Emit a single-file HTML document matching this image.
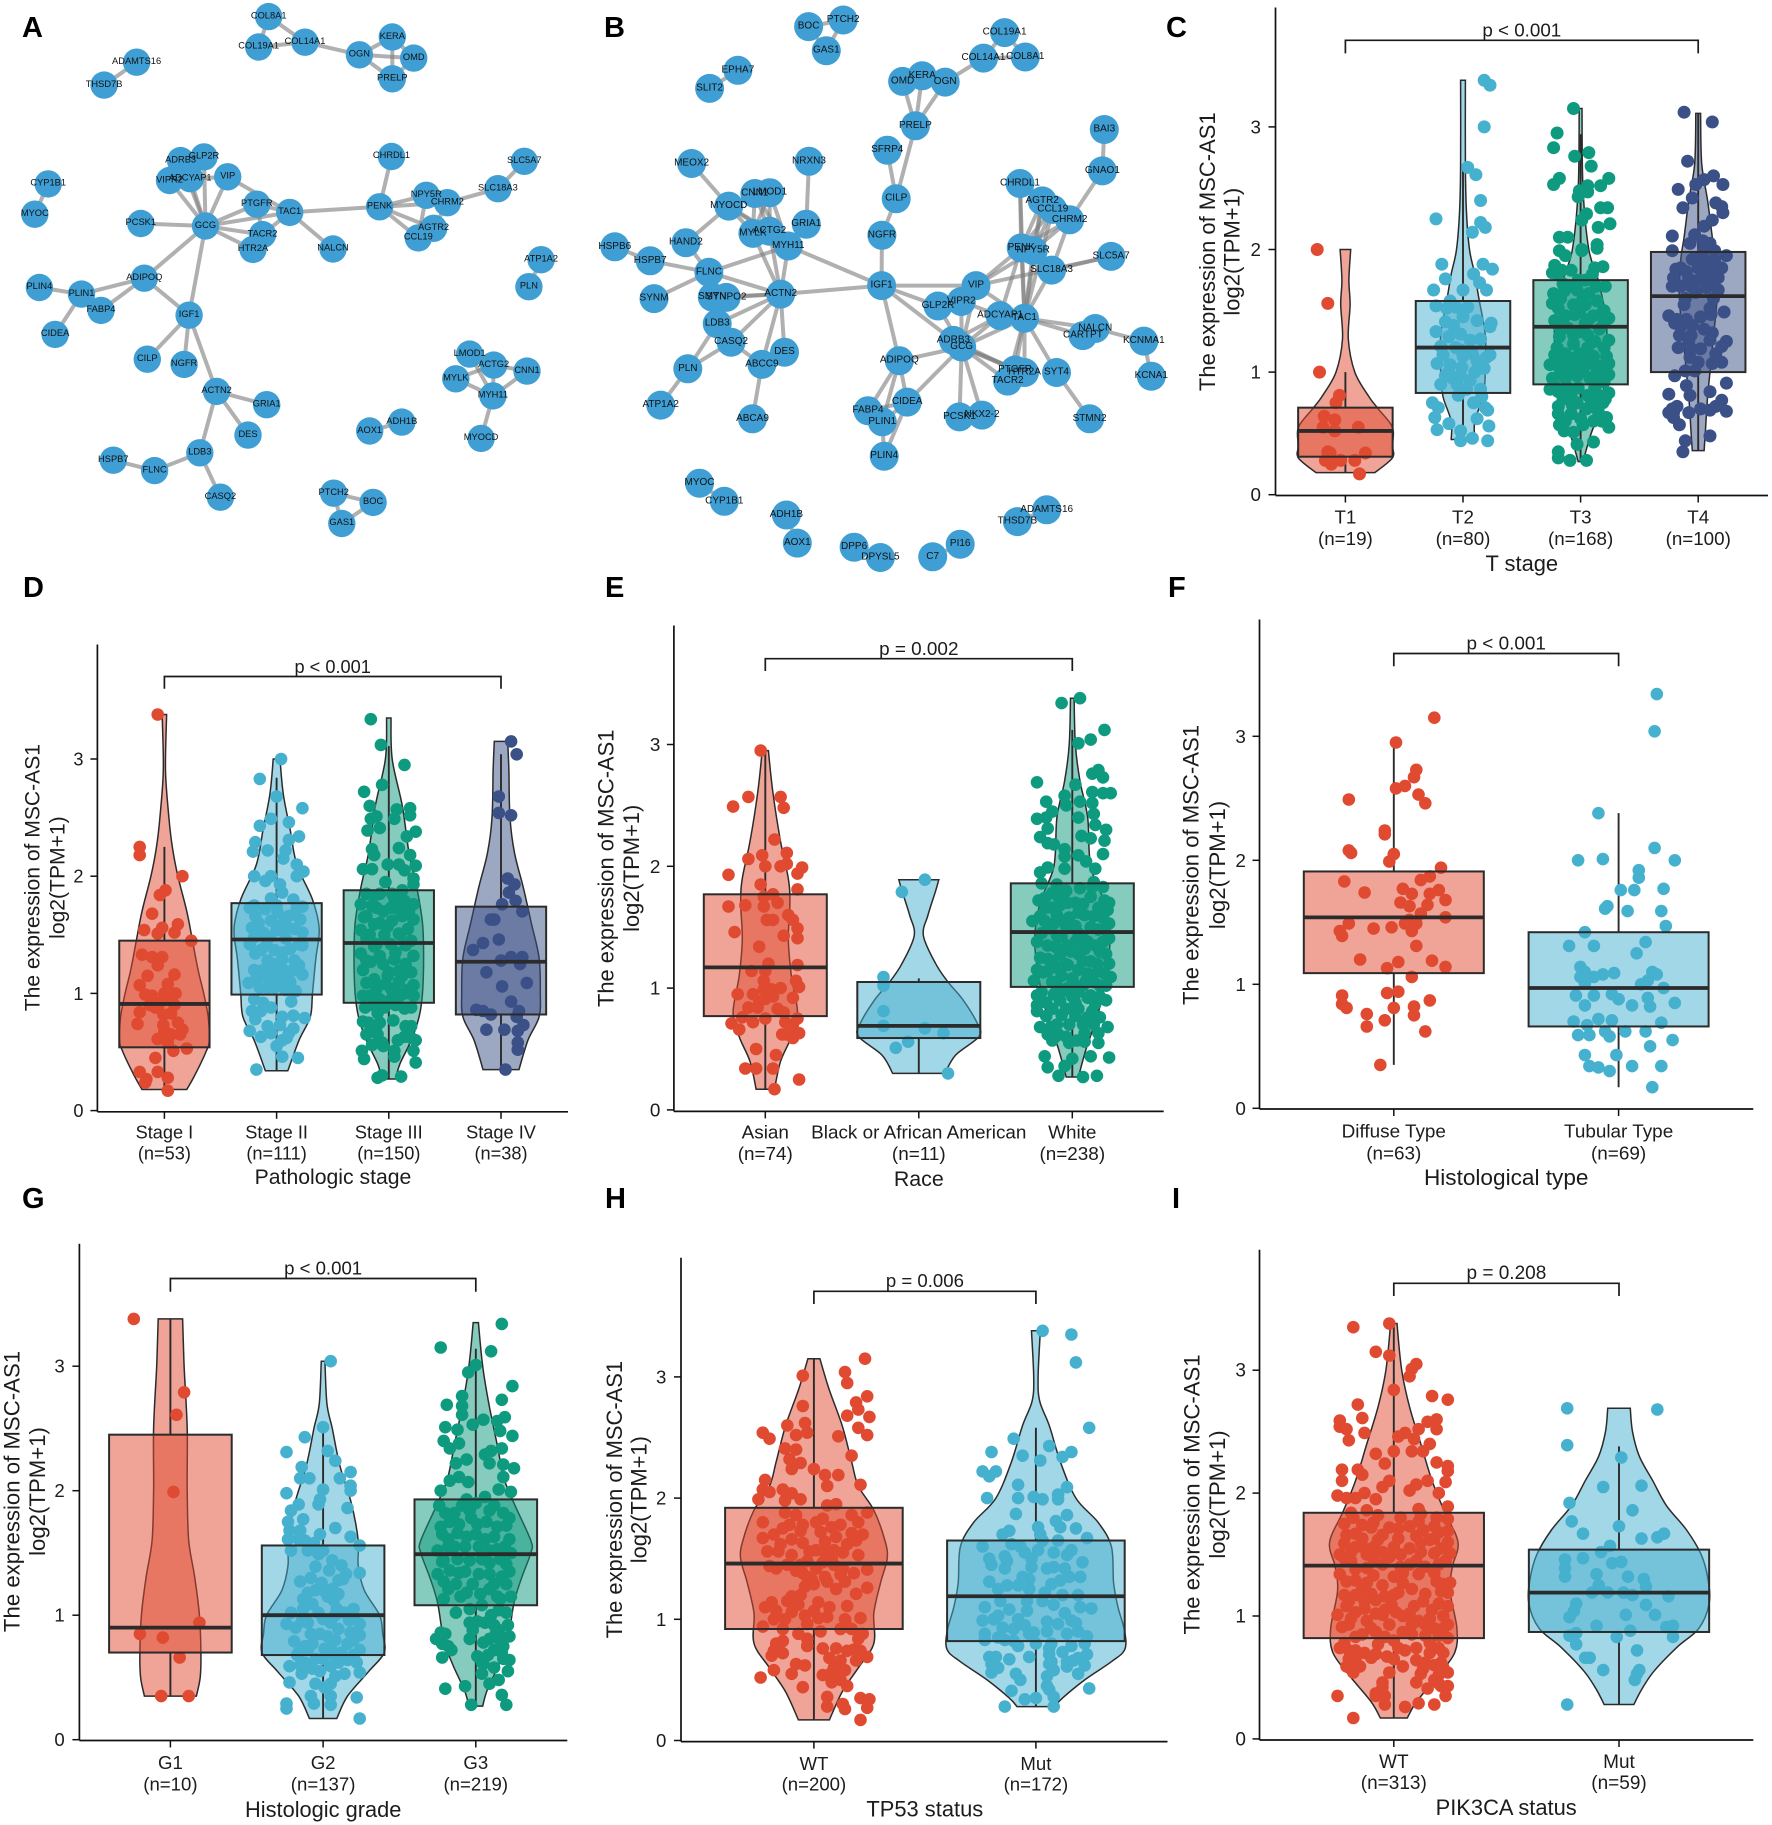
<!DOCTYPE html>
<html lang="en">
<head>
<meta charset="utf-8">
<title>MSC-AS1 expression figure</title>
<style>
html,body{margin:0;padding:0;background:#fff}
svg{display:block;position:absolute;left:0;top:0}
text{font-family:"Liberation Sans",sans-serif;fill:#1c1c1c}
</style>
</head>
<body>
<svg id="figure" xmlns="http://www.w3.org/2000/svg" width="1772" height="1825" viewBox="0 0 1772 1825">
<rect width="1772" height="1825" fill="#fff"/>
</svg>
<script>
/* ---------- Network A ---------- */
const netA_nodes=[["COL8A1",702,45],["COL19A1",676,127],["COL14A1",797,114],["OGN",939,148],["KERA",1025,100],["OMD",1081,157],["PRELP",1025,213],["ADAMTS16",357,168],["THSD7B",272,230],["CYP1B1",126,497],["MYOC",91,579],["ADRB3",472,434],["GLP2R",533,424],["VIPR2",443,488],["ADCYAP1",497,483],["VIP",595,478],["PTGFR",671,552],["TAC1",757,574],["GCG",537,611],["PCSK1",368,604],["TACR2",686,634],["HTR2A",661,674],["NALCN",870,673],["CHRDL1",1023,423],["PENK",992,559],["NPY5R",1114,528],["CHRM2",1169,548],["AGTR2",1133,617],["CCL19",1093,643],["SLC18A3",1301,510],["SLC5A7",1370,436],["ATP1A2",1414,702],["PLN",1382,775],["ADIPOQ",377,752],["PLIN4",103,777],["PLIN1",213,795],["FABP4",264,839],["CIDEA",144,904],["IGF1",494,852],["CILP",385,971],["NGFR",481,985],["ACTN2",566,1058],["GRIA1",697,1094],["DES",648,1176],["LDB3",522,1224],["FLNC",404,1272],["HSPB7",296,1244],["CASQ2",576,1344],["LMOD1",1227,957],["ACTG2",1290,987],["CNN1",1377,1003],["MYLK",1191,1024],["MYH11",1288,1070],["MYOCD",1257,1185],["AOX1",966,1165],["ADH1B",1050,1141],["PTCH2",872,1333],["BOC",975,1358],["GAS1",893,1415]];
const netA_edges="COL8A1-COL19A1 COL8A1-COL14A1 COL19A1-COL14A1 COL14A1-OGN OGN-KERA OGN-OMD OGN-PRELP KERA-OMD KERA-PRELP OMD-PRELP ADAMTS16-THSD7B CYP1B1-MYOC GCG-ADRB3 GCG-GLP2R GCG-VIPR2 GCG-ADCYAP1 GCG-VIP GCG-PTGFR GCG-TAC1 GCG-PCSK1 GCG-TACR2 GCG-HTR2A GCG-ADIPOQ GCG-IGF1 VIP-TAC1 TAC1-PTGFR TAC1-TACR2 PTGFR-TACR2 TAC1-PENK TAC1-NALCN ADRB3-ADCYAP1 ADCYAP1-VIP GLP2R-ADCYAP1 PENK-CHRDL1 PENK-NPY5R PENK-CHRM2 PENK-AGTR2 PENK-CCL19 NPY5R-CHRM2 NPY5R-CCL19 CHRM2-AGTR2 CHRM2-SLC18A3 SLC18A3-SLC5A7 ATP1A2-PLN ADIPOQ-PLIN1 ADIPOQ-FABP4 ADIPOQ-IGF1 PLIN1-FABP4 PLIN1-PLIN4 PLIN1-CIDEA IGF1-CILP IGF1-NGFR IGF1-ACTN2 ACTN2-GRIA1 ACTN2-DES ACTN2-LDB3 LDB3-FLNC LDB3-CASQ2 FLNC-HSPB7 LMOD1-ACTG2 MYLK-ACTG2 MYLK-MYH11 ACTG2-MYH11 LMOD1-MYH11 CNN1-ACTG2 CNN1-MYH11 MYH11-MYOCD AOX1-ADH1B PTCH2-BOC PTCH2-GAS1 BOC-GAS1".split(" ");

/* ---------- Network B ---------- */
const netB_nodes=[["BOC",581,72],["PTCH2",673,54],["GAS1",628,137],["EPHA7",393,190],["SLIT2",318,239],["COL19A1",1102,88],["COL14A1",1046,157],["COL8A1",1157,154],["OMD",831,220],["KERA",883,205],["OGN",944,222],["PRELP",865,340],["SFRP4",790,406],["CILP",814,537],["NGFR",776,636],["BAI3",1367,350],["GNAO1",1362,462],["MEOX2",270,442],["NRXN3",582,436],["CHRDL1",1143,496],["AGTR2",1202,543],["CCL19",1230,566],["CHRM2",1275,594],["MYOCD",369,557],["CNN1",438,523],["LMOD1",478,521],["GRIA1",575,606],["MYLK",433,631],["ACTG2",477,625],["MYH11",527,665],["HAND2",255,656],["HSPB6",66,667],["HSPB7",160,705],["FLNC",316,736],["SYNM",170,807],["SMTN",325,803],["SYNPO2",362,804],["ACTN2",507,795],["LDB3",338,875],["CASQ2",375,925],["DES",517,952],["ABCC9",457,985],["PLN",260,997],["ATP1A2",188,1095],["ABCA9",432,1132],["IGF1",775,772],["PENK",1146,670],["NPY5R",1178,677],["SLC18A3",1227,730],["SLC5A7",1385,693],["VIP",1026,772],["VIPR2",987,815],["GLP2R",925,827],["ADCYAP1",1090,853],["TAC1",1155,860],["ADRB3",966,920],["GCG",988,938],["ADIPOQ",822,975],["PTGFR",1130,1000],["HTR2A",1155,1007],["TACR2",1110,1030],["SYT4",1240,1007],["CARTPT",1310,907],["NALCN",1343,888],["KCNMA1",1472,922],["KCNA1",1492,1017],["CIDEA",843,1087],["FABP4",739,1110],["PLIN1",777,1140],["PLIN4",782,1233],["PCSK1",982,1127],["NKX2-2",1042,1122],["STMN2",1328,1132],["MYOC",291,1306],["CYP1B1",357,1355],["ADH1B",522,1392],["AOX1",551,1468],["DPP6",702,1479],["DPYSL5",772,1507],["C7",911,1505],["PI16",984,1471],["ADAMTS16",1214,1378],["THSD7B",1136,1410]];
const netB_edges="BOC-PTCH2 BOC-GAS1 PTCH2-GAS1 EPHA7-SLIT2 COL19A1-COL14A1 COL19A1-COL8A1 COL14A1-COL8A1 COL14A1-OGN OMD-KERA KERA-OGN OMD-PRELP KERA-PRELP OGN-PRELP PRELP-CILP SFRP4-CILP CILP-NGFR NGFR-IGF1 BAI3-GNAO1 GNAO1-CHRM2 MEOX2-MYOCD NRXN3-GRIA1 MYOCD-CNN1 MYOCD-LMOD1 MYOCD-MYLK MYOCD-ACTG2 MYOCD-MYH11 MYOCD-HAND2 CNN1-MYLK CNN1-ACTG2 CNN1-MYH11 LMOD1-ACTG2 LMOD1-MYH11 LMOD1-MYLK MYH11-FLNC MYH11-IGF1 MYH11-ACTN2 MYLK-ACTN2 ACTG2-ACTN2 HAND2-FLNC HSPB6-HSPB7 HSPB7-FLNC FLNC-SYNM FLNC-ACTN2 FLNC-LDB3 SYNPO2-ACTN2 SMTN-ACTN2 LDB3-ACTN2 CASQ2-ACTN2 DES-ACTN2 ABCC9-ACTN2 CASQ2-PLN LDB3-PLN PLN-ATP1A2 ABCC9-ABCA9 CASQ2-ABCC9 ACTN2-IGF1 IGF1-VIP IGF1-GLP2R IGF1-GCG IGF1-ADIPOQ CHRDL1-PENK AGTR2-PENK CCL19-PENK CHRM2-PENK NPY5R-AGTR2 NPY5R-CCL19 NPY5R-CHRM2 CHRM2-SLC18A3 SLC18A3-SLC5A7 VIP-PENK VIP-NPY5R VIP-SLC5A7 TAC1-PENK TAC1-NPY5R TAC1-CHRDL1 TAC1-AGTR2 TAC1-CCL19 TAC1-SLC18A3 ADCYAP1-PENK GCG-VIP GCG-VIPR2 GCG-GLP2R GCG-ADCYAP1 GCG-TAC1 GCG-PTGFR GCG-HTR2A GCG-TACR2 GCG-PCSK1 GCG-NKX2-2 GCG-ADIPOQ GCG-CIDEA GCG-ADRB3 ADRB3-PTGFR ADRB3-ADCYAP1 VIP-TAC1 VIPR2-ADCYAP1 TAC1-PTGFR TAC1-HTR2A TAC1-TACR2 TAC1-SYT4 TAC1-CARTPT TAC1-NALCN NALCN-KCNMA1 KCNMA1-KCNA1 SYT4-STMN2 ADIPOQ-FABP4 ADIPOQ-PLIN1 ADIPOQ-CIDEA CIDEA-PLIN4 FABP4-PLIN1 FABP4-CIDEA PLIN1-PLIN4 PLIN1-CIDEA MYOC-CYP1B1 ADH1B-AOX1 DPP6-DPYSL5 C7-PI16 ADAMTS16-THSD7B".split(" ");

/* ---------- Panel C ---------- */
const panelC_categories=["T1","T2","T3","T4"];
const panelC_counts=[19,80,168,100];
const panelC_yticks=[0,1,2,3];
const panelC_box=[[.18,.31,.52,.71,1.0],[.44,.83,1.2,1.58,2.68],[.27,.9,1.37,1.75,2.94],[.36,1.0,1.62,1.98,3.11]];
const panelC_violin=[
[[2,.045],[1.75,.03],[1.55,.04],[1.27,.025],[1,.08],[.8,.2],[.7,.28],[.55,.4],[.4,.4],[.3,.4],[.18,.25]],
[[3.38,.02],[2.7,.02],[2.3,.03],[2,.055],[1.8,.1],[1.6,.135],[1.3,.19],[1,.19],[.8,.17],[.6,.1],[.45,.1]],
[[3.15,.012],[2.5,.02],[2,.07],[1.75,.15],[1.4,.22],[1,.21],[.7,.17],[.5,.09],[.27,.02]],
[[3.11,.02],[2.7,.03],[2.4,.08],[2.1,.12],[1.9,.15],[1.6,.16],[1.3,.13],[1,.1],[.8,.08],[.5,.06],[.36,.05]]];
const panelC_points=[
[[-.24,2],[-.15,1.56],[-.22,1],[-.05,.81],[-.08,.75],[-.18,.64],[-.09,.61],[-.19,.55],[-.09,.52],[.11,.55],[-.15,.35],[.17,.34],[-.17,.28],[-.12,.25],[-.04,.28],[.08,.28],[.12,.17],[-.13,.34]],
[[.18,3.38],[.23,3.34],[.18,3],[.04,2.67],[.11,2.61],[.15,2.4],[-.23,2.25],[.15,2.22],[.19,2.18],[.08,2.14],[-.18,1.88],[.17,1.88],[.25,1.84],[-.15,1.76],[.09,1.8],[.14,1.73],[.2,1.67],[-.25,1.67],[0,1.67],[-.11,1.58],[-.23,1.54],[-.14,1.52],[-.06,1.53],[.04,1.53],[-.15,1.41],[.12,1.42],[.24,1.4],[.23,1.37],[-.23,1.33],[-.02,1.31],[-.12,1.29],[.15,1.27],[.06,1.26],[-.19,1.21],[-.06,1.2],[.23,1.14],[.12,1.09],[-.22,1.07],[-.11,1.06],[-.01,1.04],[-.12,1],[.1,1],[-.02,.97],[-.19,.9],[-.09,.95],[.03,.86],[.15,.86],[-.04,.81],[.09,.75],[-.26,.75],[-.21,.71],[.19,.71],[.21,.69],[-.24,.63],[.12,.62],[-.12,.58],[.22,.56],[-.22,.53],[-.02,.52],[-.02,.44],[.08,.46],[.21,.44],[-.17,1.14],[0,1.13],[.18,1.03],[-.05,.9],[.06,.93],[.16,.8],[0,1.45],[.08,1.15],[-.08,1.38],[.2,1.12],[-.15,.97],[-.02,1.18]],
[[-.06,3.15],[-.2,2.95],[-.23,2.83],[.07,2.79],[-.05,2.76],[.09,2.68],[.24,2.58],[-.18,2.58],[-.23,2.53],[.17,2.52],[.06,2.52],[-.01,2.48],[.06,2.47],[-.02,2.43],[.17,2.34],[.23,2.34],[.05,2.29],[.01,2.24],[.25,2.21],[.15,2.18],[-.18,2.1],[-.11,2.1],[.14,2.04],[.14,2.01],[-.18,1.99],[.01,1.99],[-.13,1.95],[-.22,1.87],[-.24,1.81],[-.16,1.83],[-.08,1.83],[.12,1.85],[.19,1.86],[.04,1.75],[.21,1.7],[-.23,1.64],[-.14,1.66],[-.03,1.67],[.07,1.64],[.14,1.58],[-.24,1.56],[-.19,1.52],[-.06,1.55],[.04,1.55],[.19,1.49],[.24,1.44],[-.13,1.46],[-.01,1.49],[.11,1.46],[-.19,1.38],[.04,1.4],[.2,1.4],[-.18,1.29],[-.06,1.3],[.06,1.3],[.24,1.26],[-.06,1.23],[.06,1.2],[-.13,1.15],[-.01,1.15],[.11,1.13],[.22,1.13],[-.14,1.07],[-.04,1.07],[.06,1.07],[-.26,1.06],[.24,1.07],[-.21,1.06],[-.09,1.01],[.02,1.01],[.14,1.01],[.24,.98],[-.24,.95],[-.13,.95],[.17,.92],[-.26,.86],[-.19,.84],[-.09,.83],[.24,.83],[.16,.81],[.06,.81],[.09,.74],[.19,.75],[-.19,.72],[-.03,.75],[-.19,.66],[-.08,.66],[.22,.63],[.11,.6],[-.18,.57],[.24,.55],[-.14,.52],[-.06,.51],[.02,.57],[.11,.43],[-.03,.41],[-.19,.35],[-.19,.3],[-.09,.28],[.05,.28],[-.2,1.8],[-.08,1.7],[.02,1.6],[.13,1.7],[-.17,1.6],[-.05,1.47],[.07,1.43],[.16,1.35],[-.22,1.42],[-.11,1.36],[0,1.33],[.12,1.25],[.2,1.2],[-.2,1.2],[-.1,1.12],[.03,1.12],[.16,1.05],[-.22,1.14],[-.17,1],[-.03,.97],[.08,.95],[.2,.92],[-.12,.88],[-.02,.87],[.12,.87],[.21,.78],[-.23,.9],[-.15,.78],[-.07,.73],[.05,.7],[.15,.68],[-.13,.6],[0,.62],[.18,.6],[-.08,.8],[.2,1.5],[-.02,1.75],[.1,1.8],[-.15,1.72],[.01,2]],
[[-.12,3.12],[.12,3.04],[-.09,2.72],[.13,2.6],[.05,2.57],[-.02,2.53],[-.17,2.49],[.21,2.53],[-.05,2.42],[-.13,2.34],[.15,2.38],[.21,2.3],[.12,2.24],[.05,2.19],[-.22,2.11],[.04,2.07],[-.07,2.05],[-.22,1.99],[.14,1.99],[.24,1.95],[-.05,1.92],[.05,1.92],[.14,1.92],[-.19,1.84],[0,1.85],[.09,1.84],[-.21,1.77],[-.08,1.76],[.17,1.77],[0,1.75],[-.15,1.7],[-.06,1.7],[.07,1.69],[.17,1.67],[-.11,1.6],[.1,1.52],[.22,1.49],[.11,1.47],[-.25,1.46],[-.18,1.43],[-.1,1.43],[-.15,1.37],[-.05,1.38],[-.16,1.3],[-.06,1.3],[.12,1.32],[.1,1.26],[.24,1.25],[.2,1.21],[-.06,1.19],[.02,1.19],[.2,1.08],[.12,1.07],[-.2,.97],[-.03,1.01],[-.11,1.01],[-.1,.89],[.24,.91],[-.25,.82],[-.07,.81],[.1,.84],[.2,.77],[-.18,.72],[-.21,.67],[-.08,.67],[.02,.7],[.1,.69],[.24,.68],[-.21,.63],[-.16,.57],[-.11,.44],[.1,.48],[-.13,.35],[-.25,.67],[-.15,1.85],[.12,1.83],[0,1.93],[-.1,1.82],[.2,1.85],[-.22,1.7],[.11,1.73],[.05,1.78],[-.02,1.65],[.13,1.6],[-.12,1.55],[-.2,1.4],[-.08,1.25],[.02,1.45],[.05,1.35],[-.17,1.2],[.15,1.15],[-.07,1.12],[0,1.08],[-.22,.7],[.15,.72],[.05,2],[-.03,2.12],[.1,2.05],[.2,2.35]]];

/* ---------- Panel D ---------- */
const panelD_categories=["Stage I","Stage II","Stage III","Stage IV"];
const panelD_counts=[53,111,150,38];
const panelD_yticks=[0,1,2,3];
const panelD_box=[[.18,.54,.91,1.45,2.25],[.34,.99,1.46,1.77,2.84],[.27,.92,1.43,1.88,3.11],[.35,.82,1.27,1.74,3.04]];
const panelD_violin=[
[[3.38,.02],[2.9,.01],[2.5,.04],[2.25,.07],[2,.12],[1.7,.2],[1.45,.25],[1.2,.3],[1,.35],[.8,.39],[.6,.4],[.5,.37],[.3,.27],[.18,.2]],
[[3,.03],[2.7,.06],[2.4,.12],[2.1,.18],[1.8,.32],[1.55,.38],[1.3,.35],[1,.32],[.8,.3],[.6,.2],[.34,.1]],
[[3.35,.02],[3,.03],[2.6,.12],[2.2,.18],[1.9,.25],[1.6,.3],[1.3,.31],[1,.3],[.8,.27],[.6,.2],[.4,.1],[.27,.06]],
[[3.15,.06],[2.9,.07],[2.5,.08],[2.2,.12],[1.9,.2],[1.6,.27],[1.3,.34],[1,.35],[.8,.34],[.6,.24],[.35,.16]]];
const panelD_points=[
[[-.06,3.38],[-.22,2.25],[-.22,2.18],[.16,2],[.01,1.88],[-.04,1.84],[-.11,1.68],[.12,1.59],[-.18,1.54],[-.02,1.56],[-.06,1.51],[.09,1.52],[.24,1.45],[-.2,1.33],[-.11,1.31],[-.02,1.31],[-.06,1.24],[.09,1.16],[-.22,1.07],[.03,1.08],[-.17,.99],[-.11,.98],[-.04,.92],[.09,.9],[-.22,.84],[-.01,.82],[.06,.83],[-.24,.74],[-.01,.73],[0,.68],[.16,.69],[.06,.65],[.14,.65],[-.06,.61],[.03,.58],[.2,.53],[.08,.51],[-.08,.45],[-.22,.33],[-.06,.33],[.03,.28],[-.16,.27],[.03,.17],[-.17,.24],[0,1],[-.15,1.15],[.05,.95],[-.03,.62],[.12,.75],[-.08,.88],[.1,1],[-.13,.9]],
[[.04,3],[-.15,2.83],[0,2.68],[.23,2.58],[-.05,2.49],[.11,2.46],[-.15,2.43],[.2,2.34],[-.19,2.29],[.11,2.31],[-.21,2.21],[-.08,2.22],[.08,2.22],[.06,2.15],[.18,2.1],[.24,2.04],[.18,2],[-.2,2],[-.1,1.96],[-.05,2],[.03,1.93],[.05,1.86],[-.05,1.81],[.15,1.8],[.23,1.74],[-.24,1.73],[-.19,1.66],[.01,1.69],[.11,1.66],[.21,1.63],[-.22,1.56],[-.12,1.52],[0,1.54],[.1,1.56],[.23,1.52],[-.24,1.42],[-.09,1.41],[.23,1.41],[-.19,1.34],[.05,1.29],[-.02,1.25],[.2,1.24],[-.12,1.2],[-.02,1.19],[.13,1.19],[.23,1.16],[-.15,1.15],[-.05,1.14],[-.25,1.09],[.12,1.1],[-.15,1.05],[-.02,1.05],[.13,.93],[-.12,.92],[-.22,.85],[-.14,.85],[-.19,.78],[.05,.8],[.15,.81],[.25,.79],[-.24,.68],[-.05,.66],[.11,.66],[-.14,.63],[.05,.6],[0,.55],[.05,.46],[.19,.45],[-.18,.35],[-.2,1.75],[-.1,1.72],[0,1.75],[.18,1.72],[-.16,1.6],[-.05,1.62],[.06,1.6],[.16,1.55],[-.2,1.48],[-.06,1.48],[.08,1.47],[.2,1.42],[-.14,1.37],[-.02,1.37],[.12,1.38],[-.2,1.2],[-.08,1.28],[.06,1.2],[.16,1.28],[.1,1.12],[-.18,1.12],[.02,1.1],[.17,1.02],[-.08,1.05],[0,1.2],[.05,1.35],[-.1,1.15],[.08,1.03],[-.2,.95],[-.05,.88],[.15,.7],[-.08,.72],[.03,.73],[.09,.62]],
[[-.16,3.34],[-.07,3.12],[.14,2.95],[-.06,2.78],[-.22,2.72],[-.17,2.6],[.19,2.58],[.07,2.57],[-.11,2.51],[-.16,2.49],[.05,2.49],[.19,2.52],[-.08,2.41],[-.19,2.39],[.24,2.38],[.16,2.34],[-.15,2.23],[.09,2.24],[.19,2.18],[-.13,2.18],[-.23,2.06],[-.15,2.06],[-.01,2.1],[.09,2.1],[.24,2.09],[.14,2.05],[.22,1.98],[-.03,1.95],[.22,1.93],[-.13,1.83],[.05,1.81],[.14,1.79],[-.25,1.76],[.22,1.76],[-.11,1.73],[.02,1.73],[-.2,1.66],[.12,1.66],[.22,1.63],[-.13,1.59],[-.01,1.57],[-.25,1.54],[.09,1.51],[-.2,1.47],[-.11,1.42],[.02,1.42],[.15,1.41],[-.25,1.34],[-.08,1.32],[.22,1.32],[-.16,1.27],[.05,1.29],[-.23,1.2],[.09,1.19],[.17,1.19],[-.01,1.15],[-.2,1.09],[.09,1.1],[.22,1.07],[-.11,1.04],[.02,1.04],[.14,1],[-.23,.98],[.22,.98],[-.08,.95],[.02,.95],[-.21,.88],[-.1,.83],[.14,.87],[.04,.77],[-.23,.76],[.15,.72],[-.16,.69],[-.11,.72],[.2,.72],[-.2,.65],[.14,.63],[-.06,.58],[-.15,.56],[.24,.6],[-.05,.55],[.05,.51],[-.24,.51],[.22,.51],[-.22,.44],[.24,.41],[.05,.46],[-.06,.3],[-.1,.28],[.11,.29],[-.2,1.85],[-.08,1.85],[.03,1.85],[.12,1.88],[-.15,1.75],[-.05,1.7],[.08,1.72],[.18,1.7],[-.22,1.65],[-.08,1.6],[.03,1.62],[.17,1.55],[-.17,1.5],[-.04,1.5],[.1,1.5],[.2,1.45],[-.13,1.4],[.06,1.35],[.15,1.25],[-.2,1.28],[-.05,1.25],[0,1.18],[.12,1.15],[.2,1.18],[-.13,1.12],[-.03,1.08],[.06,1.02],[.17,1.03],[-.17,.98],[.1,.98],[-.14,.9],[-.04,.88],[.06,.9],[.2,.88],[-.18,.75],[-.08,.75],[.2,.62],[-.1,.65],[.08,.6]],
[[.09,3.15],[.14,3.04],[-.02,2.68],[-.02,2.54],[.09,2.52],[.06,1.98],[.12,1.93],[.07,1.86],[.13,1.79],[.01,1.76],[.19,1.7],[-.09,1.63],[-.06,1.63],[-.02,1.46],[-.16,1.43],[-.25,1.37],[.09,1.31],[.19,1.31],[0,1.28],[.17,1.25],[-.13,1.18],[.01,1.06],[.23,1.09],[.09,.93],[-.22,.86],[-.16,.85],[-.09,.82],[.16,.85],[.14,.8],[-.13,.69],[.03,.69],[.2,.73],[.15,.68],[.15,.58],[.15,.52],[.04,.35]]];

/* ---------- Panel E ---------- */
const panelE_categories=["Asian","Black or African American","White"];
const panelE_counts=[74,11,238];
const panelE_yticks=[0,1,2,3];
const panelE_box=[[.17,.77,1.17,1.77,2.95],[.3,.59,.69,1.05,1.08],[.27,1.01,1.46,1.86,3.12]];
const panelE_violin=[
[[2.95,.02],[2.6,.05],[2.2,.1],[1.9,.15],[1.7,.16],[1.4,.15],[1.1,.17],[.8,.21],[.6,.17],[.4,.1],[.17,.06]],
[[1.89,.13],[1.8,.11],[1.6,.06],[1.43,.03],[1.2,.11],[1.05,.19],[.9,.29],[.7,.385],[.6,.39],[.45,.24],[.3,.17]],
[[3.38,.012],[3,.02],[2.7,.05],[2.4,.1],[2,.12],[1.7,.21],[1.4,.245],[1.1,.22],[.8,.17],[.5,.09],[.27,.04]]];
const panelE_points=[
[[-.03,2.95],[-.11,2.57],[.1,2.57],[-.21,2.49],[.12,2.48],[.06,2.22],[-.02,2.09],[.14,2.11],[-.11,2.06],[0,2],[.1,2],[.14,2.02],[.24,1.99],[.21,1.94],[-.24,1.93],[.21,1.81],[.05,1.77],[-.01,1.75],[.08,1.7],[-.24,1.67],[-.13,1.68],[-.01,1.67],[.15,1.6],[.01,1.56],[.05,1.56],[.18,1.56],[-.2,1.46],[.21,1.49],[.12,1.43],[.21,1.41],[-.04,1.34],[.21,1.19],[0,1.14],[-.09,1.14],[-.01,1.06],[.2,1.06],[.22,1.01],[.04,.99],[-.01,.99],[-.18,.95],[.18,.92],[-.04,.89],[0,.91],[-.11,.84],[-.05,.84],[.08,.83],[.12,.8],[-.15,.76],[.21,.75],[-.08,.72],[.13,.72],[-.22,.71],[.18,.7],[-.17,.66],[.11,.62],[.22,.63],[.18,.59],[-.06,.5],[.07,.45],[-.13,.34],[-.06,.34],[.05,.34],[.22,.25],[.06,.17],[.02,1.2],[-.03,1.85],[0,.75],[.05,.93],[-.08,.95],[.1,1],[.14,.62]],
[[.04,1.89],[-.11,1.79],[-.23,1.09],[-.23,1.02],[-.23,.81],[-.23,.69],[.04,.67],[.16,.63],[-.07,.56],[-.15,.51],[.19,.3]],
[[.05,3.38],[-.07,3.34],[.21,3.12],[.12,3.04],[.04,3.01],[.17,2.79],[.13,2.76],[.2,2.73],[-.23,2.69],[.02,2.67],[.13,2.61],[.2,2.6],[.25,2.6],[-.05,2.58],[-.17,2.53],[.05,2.53],[.13,2.52],[-.04,2.5],[-.13,2.45],[-.23,2.39],[-.17,2.4],[.14,2.43],[.04,2.4],[.15,2.34],[-.16,2.31],[.22,2.3],[-.21,2.24],[.06,2.25],[.12,2.23],[.21,2.21],[-.16,2.19],[-.12,2.18],[-.05,2.14],[.2,2.1],[.04,2.09],[-.05,2.08],[.09,2.04],[-.16,1.99],[.15,1.98],[-.21,1.95],[-.05,1.98],[-.2,1.86],[.14,1.87],[.2,1.83],[-.1,1.85],[-.18,1.74],[-.09,1.75],[.12,1.75],[.24,1.7],[.07,1.69],[-.03,1.7],[-.13,1.66],[.23,1.64],[-.21,1.59],[-.26,1.55],[.04,1.62],[.14,1.59],[-.08,1.56],[.24,1.53],[-.15,1.49],[.02,1.51],[.17,1.48],[-.1,1.43],[.07,1.41],[.24,1.41],[-.23,1.38],[-.16,1.35],[-.03,1.35],[.15,1.35],[-.08,1.28],[.04,1.28],[-.21,1.25],[.22,1.28],[-.13,1.22],[.12,1.22],[-.03,1.19],[.24,1.2],[-.23,1.15],[.04,1.15],[-.16,1.14],[.17,1.14],[-.07,1.1],[.25,1.09],[-.25,1.06],[.09,1.06],[-.1,1.02],[.01,1.04],[.18,1.02],[-.23,.94],[-.07,.97],[.04,.97],[.12,.94],[.18,.93],[-.23,.86],[-.13,.83],[-.04,.83],[.04,.83],[.13,.81],[-.23,.81],[.18,.76],[-.21,.68],[-.14,.68],[.07,.7],[.23,.68],[-.16,.62],[-.09,.62],[.17,.63],[.17,.55],[-.02,.55],[.08,.56],[-.18,.44],[0,.42],[.12,.44],[.24,.43],[-.16,.35],[-.05,.36],[-.09,.28],[.07,.27],[.16,.28],[-.22,1.72],[-.13,1.78],[-.04,1.8],[.05,1.82],[.13,1.83],[.21,1.72],[-.17,1.66],[-.08,1.68],[.02,1.7],[.17,1.66],[-.1,1.6],[-.02,1.58],[.08,1.6],[.2,1.58],[-.18,1.55],[-.12,1.53],[-.04,1.5],[.04,1.45],[.12,1.5],[.21,1.48],[-.2,1.45],[-.07,1.42],[.02,1.38],[.1,1.38],[.2,1.38],[-.11,1.34],[-.01,1.3],[.08,1.32],[.18,1.3],[-.16,1.24],[-.05,1.2],[.07,1.22],[.16,1.2],[-.19,1.13],[-.09,1.16],[0,1.08],[.1,1.12],[.21,1.12],[-.13,1.05],[-.03,1],[.07,1.02],[.14,1.05],[.22,1.02],[-.2,.97],[-.12,.95],[0,.93],[.1,.92],[.22,.9],[-.17,.88],[-.08,.9],[.02,.88],[.15,.87],[-.07,.78],[.02,.77],[.1,.76],[-.17,.77],[-.1,.7],[-.02,.7],[.14,.7],[-.11,.6],[-.04,.6],[.08,.63],[.03,.57],[-.13,.57]]];

/* ---------- Panel F ---------- */
const panelF_categories=["Diffuse Type","Tubular Type"];
const panelF_counts=[63,69];
const panelF_yticks=[0,1,2,3];
const panelF_box=[[.35,1.09,1.54,1.91,2.95],[.17,.66,.97,1.42,2.38]];
const panelF_violin=[[],[]];
const panelF_points=[
[[.18,3.15],[.01,2.95],[.1,2.73],[.09,2.67],[.05,2.6],[.01,2.58],[.11,2.53],[-.2,2.49],[.14,2.46],[-.04,2.24],[-.04,2.21],[-.2,2.08],[-.19,2.06],[0,2.05],[-.02,1.99],[.21,1.94],[.16,1.87],[.12,1.84],[-.22,1.83],[-.13,1.74],[.04,1.77],[.2,1.76],[.08,1.73],[.16,1.73],[.03,1.66],[.23,1.68],[.07,1.63],[.15,1.64],[.12,1.57],[.23,1.54],[.07,1.52],[-.2,1.49],[.05,1.49],[.1,1.49],[-.01,1.46],[-.09,1.45],[.08,1.43],[-.24,1.43],[-.23,1.39],[.1,1.31],[-.15,1.2],[.02,1.18],[.17,1.19],[-.03,1.13],[.23,1.14],[.08,1.06],[-.03,.93],[.02,.94],[-.23,.91],[.16,.87],[-.23,.84],[.09,.82],[-.21,.81],[0,.81],[-.12,.76],[.09,.75],[-.04,.71],[-.12,.66],[.14,.62],[-.06,.35]],
[[.17,3.34],[.16,3.04],[-.09,2.38],[.16,2.1],[-.18,2],[-.07,2.01],[.25,2],[.09,1.92],[.09,1.86],[.01,1.76],[.07,1.76],[.2,1.77],[-.05,1.63],[-.06,1.61],[.04,1.59],[.19,1.59],[.21,1.47],[-.15,1.42],[.12,1.34],[-.22,1.31],[-.11,1.31],[.08,1.25],[-.17,1.14],[-.15,1.1],[.15,1.1],[.17,1.08],[-.17,1.06],[-.11,1.06],[-.07,1.08],[-.02,1.09],[.13,1.03],[.1,1],[-.15,1.01],[.2,.97],[-.19,.91],[-.11,.91],[-.03,.92],[0,.88],[.13,.89],[-.15,.83],[.06,.83],[.14,.82],[.25,.85],[-.2,.7],[-.14,.67],[-.09,.72],[-.03,.71],[.19,.69],[-.18,.59],[-.13,.59],[-.06,.62],[.03,.62],[.12,.62],[-.04,.58],[.24,.55],[.14,.5],[-.15,.43],[-.01,.43],[-.13,.34],[-.09,.33],[.06,.34],[.19,.34],[-.04,.3],[.15,.17]]];

/* ---------- Panel G ---------- */
const panelG_categories=["G1","G2","G3"];
const panelG_counts=[10,137,219];
const panelG_yticks=[0,1,2,3];
const panelG_box=[[.35,.7,.9,2.45,3.38],[.17,.68,1,1.56,2.51],[.27,1.08,1.49,1.93,3.14]];
const panelG_violin=[
[[3.38,.08],[3,.09],[2.5,.11],[2,.11],[1.6,.12],[1.3,.16],[1,.19],[.7,.2],[.5,.195],[.35,.17]],
[[3.04,.012],[2.7,.025],[2.5,.06],[2.2,.11],[1.9,.185],[1.6,.23],[1.4,.23],[1.2,.27],[1,.37],[.85,.39],[.7,.4],[.55,.3],[.35,.16],[.17,.09]],
[[3.35,.017],[3,.045],[2.7,.085],[2.4,.135],[2.1,.185],[1.9,.25],[1.6,.36],[1.5,.36],[1.3,.3],[1.1,.25],[.8,.21],[.6,.15],[.4,.075],[.27,.045]]];
const panelG_points=[
[[-.24,3.38],[.09,2.79],[.04,2.61],[.02,1.99],[.19,.94],[-.2,.85],[-.05,.82],[.06,.66],[-.06,.35],[.12,.35]],
[[.05,3.04],[0,2.51],[-.12,2.43],[-.24,2.31],[.03,2.32],[.08,2.24],[-.14,2.19],[.18,2.15],[-.15,2.1],[-.09,2.1],[.11,2.1],[.18,2.04],[.18,2],[0,2.01],[-.24,1.98],[-.02,1.93],[-.03,1.89],[-.16,1.89],[.16,1.86],[-.21,1.84],[-.23,1.75],[-.13,1.77],[.08,1.7],[-.22,1.68],[-.15,1.68],[-.02,1.65],[.18,1.63],[-.23,1.61],[-.16,1.61],[.24,1.56],[-.21,1.52],[-.1,1.52],[-.03,1.49],[.06,1.44],[-.05,1.39],[.04,1.36],[.24,1.34],[.15,1.33],[.13,1.29],[-.01,1.26],[-.15,1.27],[.06,1.21],[-.1,1.18],[.1,1.17],[-.13,1.13],[.03,1.15],[-.07,1.09],[-.21,1.02],[.2,1.05],[.09,1.05],[.14,1.02],[-.1,.94],[-.24,.93],[.05,.94],[.24,.93],[.17,.96],[.1,.89],[-.08,.85],[.24,.84],[.03,.83],[-.19,.79],[-.07,.77],[.16,.77],[.01,.73],[.24,.72],[-.16,.7],[-.1,.72],[.06,.69],[.16,.64],[.22,.62],[-.22,.59],[-.15,.6],[.05,.59],[.24,.54],[-.07,.57],[.08,.51],[-.22,.46],[-.05,.45],[.05,.45],[-.08,.35],[.05,.35],[.22,.34],[-.24,.29],[-.06,.29],[.05,.28],[-.24,.25],[.24,.17],[-.12,1.6],[-.06,1.58],[0,1.52],[.12,1.4],[-.08,1.3],[0,1.2],[.1,1.28],[-.05,1.2],[-.13,1.05],[-.03,1.02],[.07,1.12],[.2,.98],[-.18,.9],[-.14,.95],[0,.97],[.08,1],[.18,.86],[-.12,.75],[-.02,.85],[.08,.8],[.2,.8],[-.17,.68],[0,.65],[.12,.7],[.2,.68],[-.12,.62],[-.02,.55],[.14,.53],[.1,.62],[-.14,.53],[-.05,.65],[.05,.75],[.01,.42]],
[[.17,3.34],[-.23,3.15],[.1,3.12],[0,3.01],[-.05,2.95],[.24,2.84],[.17,2.73],[-.09,2.76],[-.19,2.69],[-.09,2.68],[-.09,2.61],[.19,2.59],[.05,2.57],[.14,2.56],[-.2,2.51],[-.02,2.53],[-.12,2.49],[.16,2.48],[.24,2.44],[-.21,2.4],[-.11,2.38],[-.17,2.34],[.17,2.34],[.1,2.32],[.06,2.29],[-.13,2.22],[-.06,2.25],[.09,2.22],[.18,2.21],[.25,2.18],[-.17,2.08],[-.11,2.11],[-.05,2.07],[.18,2.11],[.15,2.01],[-.23,2],[.23,1.99],[-.06,1.93],[.06,1.95],[-.24,1.88],[-.14,1.82],[-.04,1.84],[.09,1.84],[.18,1.82],[-.23,1.71],[-.11,1.73],[.01,1.73],[.14,1.71],[-.18,1.61],[-.06,1.63],[.06,1.61],[.22,1.61],[-.25,1.52],[-.14,1.55],[.14,1.53],[-.21,1.44],[-.04,1.44],[.09,1.42],[.2,1.41],[-.25,1.33],[-.11,1.34],[.02,1.33],[.17,1.31],[-.18,1.21],[-.06,1.18],[.09,1.21],[.23,1.15],[-.21,1.13],[.16,1.13],[-.13,1.02],[.15,1.04],[-.04,.94],[.06,.94],[.21,.92],[-.23,.86],[-.2,.85],[-.04,.81],[.15,.88],[-.26,.81],[.22,.83],[.09,.81],[-.22,.77],[.16,.8],[.17,.7],[-.16,.72],[-.22,.66],[.22,.64],[.01,.67],[.05,.61],[.04,.53],[.21,.55],[.15,.48],[.09,.45],[-.2,.41],[-.07,.43],[.17,.36],[.2,.28],[-.03,.28],[-.2,1.82],[-.09,1.88],[0,1.9],[.12,1.88],[.22,1.78],[-.17,1.75],[-.03,1.78],[.07,1.75],[.2,1.72],[-.22,1.65],[-.12,1.66],[0,1.65],[.12,1.63],[.19,1.55],[-.18,1.55],[-.07,1.55],[.02,1.55],[.09,1.52],[.23,1.5],[-.22,1.43],[-.12,1.45],[.04,1.45],[.16,1.45],[-.17,1.36],[-.07,1.35],[.09,1.33],[.22,1.35],[-.21,1.27],[-.13,1.25],[-.02,1.25],[.12,1.25],[.2,1.25],[-.1,1.15],[.03,1.17],[.14,1.15],[.04,1.08],[-.04,1.05],[.1,1],[.2,1.02],[.01,.95],[.12,.92],[.18,.75],[.12,.72],[.05,.78],[.08,.68],[.12,.58],[.04,.62],[.18,.65],[-.18,.75],[-.02,.88],[.13,.85]]];

/* ---------- Panel H ---------- */
const panelH_categories=["WT","Mut"];
const panelH_counts=[200,172];
const panelH_yticks=[0,1,2,3];
const panelH_box=[[.17,.92,1.46,1.92,3.15],[.28,.82,1.19,1.65,2.58]];
const panelH_violin=[
[[3.15,.027],[2.9,.068],[2.6,.127],[2.3,.17],[2.1,.2],[1.9,.27],[1.65,.32],[1.5,.33],[1.3,.3],[1.05,.27],[.8,.27],[.6,.2],[.4,.127],[.17,.07]],
[[3.38,.02],[3,.01],[2.8,.017],[2.6,.06],[2.3,.11],[2,.18],[1.8,.28],[1.6,.34],[1.3,.35],[1.1,.37],[.9,.4],[.75,.4],[.65,.34],[.5,.22],[.35,.12],[.28,.085]]];
const panelH_points=[
[[.23,3.15],[-.05,3.01],[.14,3.04],[.15,2.95],[.24,2.84],[.19,2.79],[-.05,2.76],[.2,2.73],[.15,2.68],[.25,2.67],[-.12,2.6],[-.04,2.62],[.2,2.58],[-.23,2.54],[-.03,2.54],[.24,2.52],[-.2,2.49],[-.08,2.52],[.11,2.51],[-.13,2.41],[-.08,2.4],[.17,2.35],[-.11,2.32],[-.06,2.29],[-.1,2.24],[0,2.24],[.05,2.19],[.11,2.19],[-.22,2.15],[.21,2.11],[.06,2.1],[-.23,2.07],[-.14,2.07],[-.2,2.05],[-.1,2.04],[-.25,1.99],[-.13,1.98],[-.06,1.99],[.06,1.94],[.1,1.95],[.24,1.88],[-.13,1.88],[.17,1.86],[-.08,1.86],[.01,1.8],[.04,1.83],[-.23,1.8],[-.11,1.78],[.08,1.76],[.2,1.8],[-.06,1.73],[.17,1.71],[.22,1.7],[-.23,1.67],[-.1,1.66],[.19,1.65],[.15,1.62],[-.05,1.63],[.05,1.64],[-.21,1.56],[-.16,1.56],[.01,1.57],[.09,1.57],[.2,1.53],[-.03,1.48],[.08,1.5],[-.2,1.44],[-.17,1.42],[-.08,1.4],[.01,1.42],[.13,1.42],[.18,1.38],[.24,1.41],[-.03,1.35],[.06,1.31],[.14,1.31],[0,1.29],[-.04,1.27],[.24,1.26],[.19,1.21],[-.1,1.19],[-.06,1.2],[-.12,1.15],[-.19,1.14],[.15,1.11],[-.22,1.1],[.07,1.1],[-.17,1.07],[0,1.07],[-.1,1.06],[-.18,1],[.02,1.01],[.06,1.02],[.21,1.01],[-.23,.94],[-.03,.96],[-.14,.92],[.12,.92],[-.07,.88],[.22,.88],[-.03,.84],[.2,.84],[-.14,.82],[-.17,.8],[-.03,.78],[.04,.76],[.1,.76],[.15,.74],[-.18,.74],[.21,.74],[-.19,.7],[.24,.69],[.19,.66],[.12,.66],[-.08,.63],[-.04,.62],[.09,.6],[-.18,.58],[.14,.58],[-.1,.55],[.04,.54],[.11,.53],[-.24,.52],[.08,.48],[.15,.45],[-.05,.44],[.06,.36],[.21,.35],[.25,.34],[.13,.3],[.06,.28],[.24,.27],[.14,.26],[.21,.17],[-.14,1.75],[-.05,1.78],[.12,1.78],[-.18,1.7],[.03,1.72],[.1,1.68],[-.15,1.62],[-.02,1.56],[.05,1.55],[.13,1.55],[-.1,1.53],[-.12,1.45],[.04,1.47],[.09,1.45],[-.06,1.45],[.12,1.37],[-.05,1.38],[.05,1.35],[-.01,1.33],[.1,1.25],[-.07,1.12],[-.04,1.03],[.02,1.14],[-.13,1],[.14,1],[.15,.94],[.03,.9],[.07,.68],[.1,.62],[.08,.56],[.12,.5],[.18,.75],[.17,.92],[-.14,.72]],
[[.03,3.38],[.16,3.35],[.18,3.12],[.24,2.58],[-.1,2.49],[.06,2.43],[-.2,2.38],[.16,2.38],[.12,2.34],[-.06,2.35],[-.24,2.22],[-.18,2.22],[-.21,2.18],[.02,2.31],[.14,2.09],[-.08,2.11],[-.22,2],[-.08,2],[-.01,2.01],[.03,1.99],[.1,2.03],[.1,1.99],[-.09,1.87],[.14,1.86],[.09,1.81],[.11,1.76],[.01,1.76],[-.12,1.73],[.18,1.75],[-.15,1.7],[.02,1.7],[.23,1.67],[-.24,1.6],[-.11,1.62],[-.05,1.55],[.01,1.57],[.16,1.57],[-.21,1.5],[-.13,1.48],[.08,1.55],[.21,1.47],[-.14,1.42],[.08,1.43],[-.02,1.43],[-.06,1.35],[.15,1.35],[-.21,1.31],[-.17,1.25],[-.08,1.28],[.07,1.29],[.11,1.32],[-.03,1.25],[.19,1.2],[-.16,1.15],[.03,1.15],[-.23,1.1],[.25,1.09],[-.04,1.07],[-.24,.99],[-.19,1],[-.08,1],[.05,.98],[.16,.99],[.1,.96],[-.1,.92],[.19,.9],[-.01,.89],[-.23,.88],[-.17,.85],[.14,.88],[.23,.86],[-.23,.83],[-.14,.83],[-.08,.78],[.06,.76],[.12,.73],[.23,.71],[-.21,.69],[-.18,.69],[-.03,.69],[.06,.71],[-.12,.67],[.17,.66],[-.2,.63],[.22,.62],[.06,.63],[.14,.61],[-.2,.56],[.19,.55],[.05,.53],[-.09,.55],[-.07,.5],[.05,.45],[.24,.43],[-.11,.41],[-.05,.34],[0,.35],[.08,.36],[-.14,.28],[.08,.28],[-.2,1.45],[-.14,1.52],[-.07,1.6],[.03,1.65],[.1,1.65],[.14,1.53],[.2,1.35],[-.02,1.5],[.05,1.42],[.13,1.42],[-.13,1.28],[-.03,1.33],[.04,1.22],[.12,1.2],[.2,1.1],[-.12,1.08],[-.17,1.03],[-.04,1.15],[.08,1.12],[.13,1.05],[-.15,.93],[-.05,.95],[.05,.9],[.18,.97],[-.1,.82],[0,.8],[.16,.78],[.07,.8],[-.03,.88],[.08,.58],[.07,.65],[.06,.42],[.19,.68],[-.17,.6],[.14,.65],[.22,.8]]];

/* ---------- Panel I ---------- */
const panelI_categories=["WT","Mut"];
const panelI_counts=[313,59];
const panelI_yticks=[0,1,2,3];
const panelI_box=[[.17,.82,1.41,1.84,3.38],[.28,.87,1.19,1.54,2.38]];
const panelI_violin=[
[[3.38,.014],[3,.035],[2.7,.07],[2.4,.12],[2.1,.17],[1.85,.225],[1.6,.285],[1.4,.26],[1.2,.25],[.9,.28],[.7,.27],[.5,.19],[.3,.1],[.17,.06]],
[[2.69,.05],[2.5,.06],[2.3,.09],[2.1,.15],[1.9,.21],[1.7,.3],[1.5,.365],[1.3,.395],[1.1,.4],[.9,.355],[.75,.26],[.55,.155],[.4,.1],[.28,.066]]];
const panelI_points=[
[[-.02,3.38],[-.18,3.35],[-.08,3.15],[-.02,3.12],[.1,3.05],[.08,3.01],[.07,2.95],[0,2.84],[.17,2.79],[.24,2.76],[-.16,2.72],[-.14,2.61],[-.24,2.59],[.19,2.6],[.15,2.58],[-.24,2.54],[-.21,2.52],[-.13,2.49],[.19,2.52],[.11,2.52],[.05,2.49],[.02,2.46],[-.2,2.43],[.09,2.44],[.16,2.4],[0,2.34],[-.08,2.32],[.08,2.34],[.13,2.34],[-.04,2.24],[.19,2.25],[.24,2.22],[-.23,2.19],[-.16,2.19],[.24,2.18],[-.14,2.15],[-.23,2.1],[-.02,2.1],[.15,2.1],[.23,2.09],[.1,2.07],[-.05,2.05],[.07,2.02],[-.25,1.98],[-.13,2],[.2,2],[-.21,1.96],[-.17,1.96],[-.08,1.95],[.24,1.89],[-.19,1.84],[.11,1.87],[-.12,1.86],[.24,1.79],[.11,1.77],[-.14,1.74],[-.09,1.76],[.02,1.71],[.07,1.73],[.18,1.73],[.24,1.69],[-.21,1.66],[-.14,1.63],[-.05,1.66],[.12,1.6],[.18,1.63],[.24,1.6],[-.22,1.59],[-.17,1.56],[-.09,1.56],[0,1.56],[.07,1.55],[-.24,1.5],[-.12,1.5],[.18,1.51],[.25,1.51],[-.02,1.48],[-.19,1.45],[.07,1.42],[.23,1.45],[-.24,1.34],[-.12,1.39],[0,1.32],[.11,1.34],[.18,1.35],[-.17,1.29],[-.12,1.27],[.04,1.27],[.22,1.26],[.25,1.27],[.02,1.19],[.14,1.18],[.24,1.19],[-.22,1.17],[-.17,1.17],[-.04,1.16],[-.08,1.13],[-.13,1.06],[-.01,1.09],[-.21,1.08],[.09,1.08],[.24,1.08],[-.25,1.01],[-.05,1.01],[-.19,.98],[.04,1],[.16,.98],[.22,1],[-.12,.96],[.11,.96],[-.23,.91],[.24,.93],[-.08,.87],[.04,.87],[.18,.9],[-.17,.83],[.24,.82],[-.22,.78],[0,.8],[.16,.78],[-.24,.74],[-.13,.7],[.05,.72],[-.08,.69],[.2,.74],[-.03,.67],[-.17,.64],[.1,.64],[.21,.62],[-.21,.59],[-.15,.59],[-.02,.54],[.04,.59],[.14,.62],[-.18,.54],[.24,.54],[.12,.53],[.1,.46],[-.05,.46],[.18,.48],[.24,.43],[.15,.41],[.21,.43],[-.08,.35],[-.04,.35],[-.25,.35],[.23,.35],[-.04,.28],[.05,.26],[.11,.29],[.18,.28],[-.18,.17],[-.18,1.8],[-.07,1.82],[.03,1.8],[.12,1.83],[.19,1.8],[-.22,1.75],[-.1,1.72],[-.02,1.72],[.13,1.7],[.2,1.68],[-.17,1.67],[-.07,1.62],[.02,1.63],[.1,1.65],[.16,1.62],[-.19,1.52],[-.13,1.55],[-.05,1.52],[.03,1.5],[.12,1.52],[.21,1.55],[-.22,1.47],[-.09,1.47],[.1,1.45],[.2,1.42],[-.17,1.38],[-.05,1.42],[.03,1.4],[.14,1.4],[-.21,1.28],[-.09,1.33],[.04,1.35],[.19,1.28],[-.14,1.22],[-.05,1.25],[.08,1.22],[.21,1.2],[-.2,1.12],[-.1,1.18],[0,1.17],[-.13,1.12],[-.04,1.05],[.13,1.12],[.2,1.1],[-.17,1.03],[-.08,1.02],[.01,1.03],[.07,1.02],[.17,1.05],[-.2,.93],[-.1,.9],[-.02,.93],[.08,.93],[.14,.93],[.22,.9],[-.14,.85],[-.04,.83],[.08,.85],[.14,.84],[.2,.84],[-.2,.72],[-.17,.72],[-.07,.77],[.02,.74],[.1,.74],[.16,.7],[.22,.7],[-.2,.65],[-.1,.66],[0,.65],[.18,.6],[.22,.58],[-.18,.6],[.13,.57],[.2,.52],[-.08,.37],[-.05,.42],[.2,.45]],
[[-.23,2.69],[.17,2.68],[-.23,2.39],[.01,2.29],[-.07,2.05],[.1,2.06],[-.22,1.92],[.06,1.86],[-.21,1.77],[0,1.73],[-.16,1.67],[.17,1.64],[.2,1.67],[.1,1.63],[-.04,1.57],[-.08,1.52],[-.16,1.47],[-.24,1.46],[-.03,1.43],[.01,1.44],[-.24,1.39],[-.24,1.32],[-.1,1.34],[.04,1.32],[.11,1.3],[-.09,1.25],[.12,1.24],[-.12,1.19],[-.05,1.19],[.02,1.19],[.06,1.17],[.22,1.16],[-.19,1.1],[.12,1.09],[-.2,1.04],[.16,1.01],[.03,1.01],[-.22,.99],[-.1,.92],[.24,.92],[.21,.91],[-.19,.86],[.05,.88],[-.22,.84],[.24,.83],[-.01,.83],[-.19,.77],[.08,.72],[-.15,.66],[-.13,.66],[-.07,.56],[.09,.56],[.08,.53],[.07,.48],[-.23,.28]]];

const groupColors=["#E04A30","#46B0CF","#0E9A7E","#3A5086"];
const panelLetters=[["A",22,37],["B",604,37],["C",1166,37],["D",23,597],["E",605,597],["F",1168,597],["G",22,1208],["H",605,1208],["I",1172,1208]];

const NS="http://www.w3.org/2000/svg";
const root=document.getElementById("figure");
function mk(parent,tag,attrs,txt){
  const el=document.createElementNS(NS,tag);
  for(const k in attrs){el.setAttribute(k,attrs[k]);}
  if(txt!==undefined){el.textContent=txt;}
  parent.appendChild(el);
  return el;
}
function slug(s){return String(s).toLowerCase().replace(/[^a-z0-9]+/g,"-").replace(/^-|-$/g,"");}

function drawNetwork(id,nodes,edges,ox,oy,sx,sy,r,fs){
  const g=mk(root,"g",{});
  
  
  const px=v=>ox+v/sx;
  const py=v=>oy+v/sy;
  const pos={};
  nodes.forEach(n=>{pos[n[0]]=n;});
  edges.forEach(e=>{
    const i=e.startsWith("NKX2-2")?6:e.indexOf("-");
    const a=pos[e.slice(0,i)];
    const b=pos[e.slice(i+1)];
    if(!a||!b){return;}
    const l=mk(g,"line",{x1:px(a[1]).toFixed(1),y1:py(a[2]).toFixed(1),x2:px(b[1]).toFixed(1),y2:py(b[2]).toFixed(1),stroke:"#808080","stroke-opacity":.62,"stroke-width":4});
    
    
  });
  nodes.forEach(n=>{
    const c=mk(g,"circle",{cx:px(n[1]).toFixed(1),cy:py(n[2]).toFixed(1),r:r,fill:"#3F9FD4"});
    
    
  });
  nodes.forEach(n=>{
    const t=mk(g,"text",{x:px(n[1]).toFixed(1),y:(py(n[2])+fs*.35-1.5).toFixed(1),"text-anchor":"middle","font-size":fs,style:"fill:#111"},n[0]);
    
    
  });
}

function smoothSide(pts){
  let d="";
  for(let i=0;i<pts.length-1;i++){
    const p0=pts[i-1]||pts[i],p1=pts[i],p2=pts[i+1],p3=pts[i+2]||p2;
    const c1=[p1[0]+(p2[0]-p0[0])/6,p1[1]+(p2[1]-p0[1])/6];
    const c2=[p2[0]-(p3[0]-p1[0])/6,p2[1]-(p3[1]-p1[1])/6];
    d+="C"+c1[0].toFixed(1)+" "+c1[1].toFixed(1)+" "+c2[0].toFixed(1)+" "+c2[1].toFixed(1)+" "+p2[0].toFixed(1)+" "+p2[1].toFixed(1);
  }
  return d;
}

function drawPanel(id,categories,counts,yticks,boxes,violins,points,L){
  const xScale=(i,j)=>L.cx0+(i+(j||0))*L.step;
  const yScale=v=>L.y0-v*L.unit;
  const g=mk(root,"g",{});
  
  
  const dark="#2b2b2b";
  categories.forEach((cat,i)=>{
    const color=groupColors[i];
    const prof=violins[i];
    if(prof.length){
      const left=prof.map(p=>[xScale(i,-p[1]),yScale(p[0])]);
      const right=prof.map(p=>[xScale(i,p[1]),yScale(p[0])]).reverse();
      const d="M"+left[0][0].toFixed(1)+" "+left[0][1].toFixed(1)+smoothSide(left)+"L"+right[0][0].toFixed(1)+" "+right[0][1].toFixed(1)+smoothSide(right)+"Z";
      const v=mk(g,"path",{d:d,fill:color,"fill-opacity":.5,stroke:dark,"stroke-width":1.5});
      
      
    }
    const b=boxes[i];
    const wl=mk(g,"path",{d:"M"+xScale(i)+" "+yScale(b[0])+"V"+yScale(b[1])+"M"+xScale(i)+" "+yScale(b[3])+"V"+yScale(b[4]),stroke:dark,"stroke-width":1.9,fill:"none"});
    
    
    points[i].forEach(p=>{
      const c=mk(g,"circle",{cx:xScale(i,p[0]).toFixed(1),cy:yScale(p[1]).toFixed(1),r:L.r||6.3,fill:color});
      
      
    });
    const bx=xScale(i)-L.boxW/2;
    const rect=mk(g,"rect",{x:bx,y:yScale(b[3]),width:L.boxW,height:yScale(b[1])-yScale(b[3]),fill:color,"fill-opacity":.5,stroke:dark,"stroke-width":2});
    
    
    const med=mk(g,"line",{x1:bx,x2:bx+L.boxW,y1:yScale(b[2]),y2:yScale(b[2]),stroke:dark,"stroke-width":3.8});
    
    
  });
  const yAxis=mk(g,"line",{x1:L.x0,x2:L.x0,y1:L.top,y2:L.axisY,stroke:"#111","stroke-width":1.7});
  
  
  const xAxis=mk(g,"line",{x1:L.x0,x2:L.xEnd,y1:L.axisY,y2:L.axisY,stroke:"#111","stroke-width":1.7});
  
  
  yticks.forEach(t=>{
    const tk=mk(g,"line",{x1:L.x0-7,x2:L.x0,y1:yScale(t),y2:yScale(t),stroke:"#111","stroke-width":1.5});
    
    
    const lb=mk(g,"text",{x:L.tickX,y:yScale(t)+6.5,"text-anchor":"end","font-size":L.fs},t);
    
    
  });
  categories.forEach((cat,i)=>{
    const tk=mk(g,"line",{x1:xScale(i),x2:xScale(i),y1:L.axisY,y2:L.axisY+7,stroke:"#111","stroke-width":1.5});
    
    
    const c1=mk(g,"text",{x:xScale(i),y:L.cat1,"text-anchor":"middle","font-size":L.fs},cat);
    
    
    const c2=mk(g,"text",{x:xScale(i),y:L.cat2,"text-anchor":"middle","font-size":L.fs},"(n="+counts[i]+")");
    
    
  });
  const t=mk(g,"text",{x:L.titleX,y:L.titleY,"text-anchor":"middle","font-size":L.tfs},L.title);
  
  
  const y1=mk(g,"text",{transform:"translate("+(L.yt1+7.5)+","+L.ytc+") rotate(-90)","text-anchor":"middle","font-size":L.ytf},"The expression of MSC-AS1");
  
  
  const y2=mk(g,"text",{transform:"translate("+(L.yt2+7.5)+","+L.ytc+") rotate(-90)","text-anchor":"middle","font-size":L.ytf},"log2(TPM+1)");
  
  
  const xa=xScale(L.bra[0]),xb=xScale(L.bra[1]);
  const br=mk(g,"path",{d:"M"+xa+" "+L.brB+"V"+L.brT+"H"+xb+"V"+L.brB,fill:"none",stroke:"#1a1a1a","stroke-width":1.7});
  
  
  const p=mk(g,"text",{x:(xa+xb)/2,y:L.pY,"text-anchor":"middle","font-size":L.fs},L.p);
  
  
}

drawNetwork("a",netA_nodes,netA_edges,0,0,2.613,2.703,13.7,9.3);
drawNetwork("b",netB_nodes,netB_edges,590,0,2.658,2.703,14.5,10);

drawPanel("c",panelC_categories,panelC_counts,panelC_yticks,panelC_box,panelC_violin,panelC_points,
 {x0:1275.5,xEnd:1768,top:7.5,axisY:495.5,y0:494.7,unit:122.6,cx0:1345.4,step:117.6,boxW:94.5,tickX:1261,cat1:523.7,cat2:544.8,titleX:1521.8,titleY:571,title:"T stage",yt1:1207.6,yt2:1232,ytc:251.7,ytf:22,fs:18.8,tfs:21.9,bra:[0,3],brT:40.3,brB:53.4,pY:36.5,p:"p < 0.001",r:6.5});
drawPanel("d",panelD_categories,panelD_counts,panelD_yticks,panelD_box,panelD_violin,panelD_points,
 {x0:97.4,xEnd:568,top:644.5,axisY:1111.8,y0:1110.6,unit:117.2,cx0:164.4,step:112.2,boxW:90.3,tickX:83.5,cat1:1138.3,cat2:1159.3,titleX:333,titleY:1183.8,title:"Pathologic stage",yt1:32,yt2:57.2,ytc:877.6,ytf:21.1,fs:18.2,tfs:21.2,bra:[0,3],brT:676.5,brB:688.7,pY:673,p:"p < 0.001"});
drawPanel("e",panelE_categories,panelE_counts,panelE_yticks,panelE_box,panelE_violin,panelE_points,
 {x0:673.9,xEnd:1163.7,top:625.5,axisY:1111.4,y0:1109.9,unit:121.8,cx0:765.3,step:153.5,boxW:123,tickX:660.4,cat1:1138.7,cat2:1160,titleX:918.8,titleY:1185.8,title:"Race",yt1:606.2,yt2:631.4,ytc:868.3,ytf:21.9,fs:18.9,tfs:21.4,bra:[0,2],brT:658.7,brB:671,pY:655,p:"p = 0.002"});
drawPanel("f",panelF_categories,panelF_counts,panelF_yticks,panelF_box,panelF_violin,panelF_points,
 {x0:1259.5,xEnd:1753.3,top:619.5,axisY:1109,y0:1108.3,unit:124,cx0:1393.8,step:224.8,boxW:180,tickX:1245.9,cat1:1137.5,cat2:1159.3,titleX:1506.2,titleY:1185,title:"Histological type",yt1:1191.2,yt2:1217.4,ytc:865,ytf:22.1,fs:18.9,tfs:22.6,bra:[0,1],brT:653.5,brB:666.2,pY:649.6,p:"p < 0.001"});
drawPanel("g",panelG_categories,panelG_counts,panelG_yticks,panelG_box,panelG_violin,panelG_points,
 {x0:79.4,xEnd:567.3,top:1243.8,axisY:1740.5,y0:1739.7,unit:124.5,cx0:170.4,step:152.7,boxW:122.6,tickX:64.7,cat1:1769,cat2:1790.7,titleX:323.2,titleY:1817,title:"Histologic grade",yt1:12,yt2:37.6,ytc:1491.5,ytf:22.2,fs:18.6,tfs:21.8,bra:[0,2],brT:1278.5,brB:1291.7,pY:1274.5,p:"p < 0.001"});
drawPanel("h",panelH_categories,panelH_counts,panelH_yticks,panelH_box,panelH_violin,panelH_points,
 {x0:681,xEnd:1167.5,top:1257.8,axisY:1741.6,y0:1740.5,unit:121.2,cx0:813.9,step:222,boxW:177.6,tickX:666.4,cat1:1770,cat2:1790.7,titleX:924.8,titleY:1816.6,title:"TP53 status",yt1:614.5,yt2:638.9,ytc:1499.7,ytf:21.9,fs:18.6,tfs:21.9,bra:[0,1],brT:1291.3,brB:1304,pY:1286.9,p:"p = 0.006"});
drawPanel("i",panelI_categories,panelI_counts,panelI_yticks,panelI_box,panelI_violin,panelI_points,
 {x0:1259.5,xEnd:1753.3,top:1249.8,axisY:1740,y0:1738.9,unit:122.9,cx0:1393.8,step:225.2,boxW:180.3,tickX:1245.9,cat1:1768,cat2:1789,titleX:1506.2,titleY:1815,title:"PIK3CA status",yt1:1192,yt2:1217.4,ytc:1494.5,ytf:22.1,fs:19,tfs:21.9,bra:[0,1],brT:1283.3,brB:1296,pY:1278.9,p:"p = 0.208"});

panelLetters.forEach(p=>{
  const t=mk(root,"text",{x:p[1],y:p[2],"font-size":29,"font-weight":"bold",style:"fill:#000"},p[0]);
  
  
});
</script>
</body>
</html>
